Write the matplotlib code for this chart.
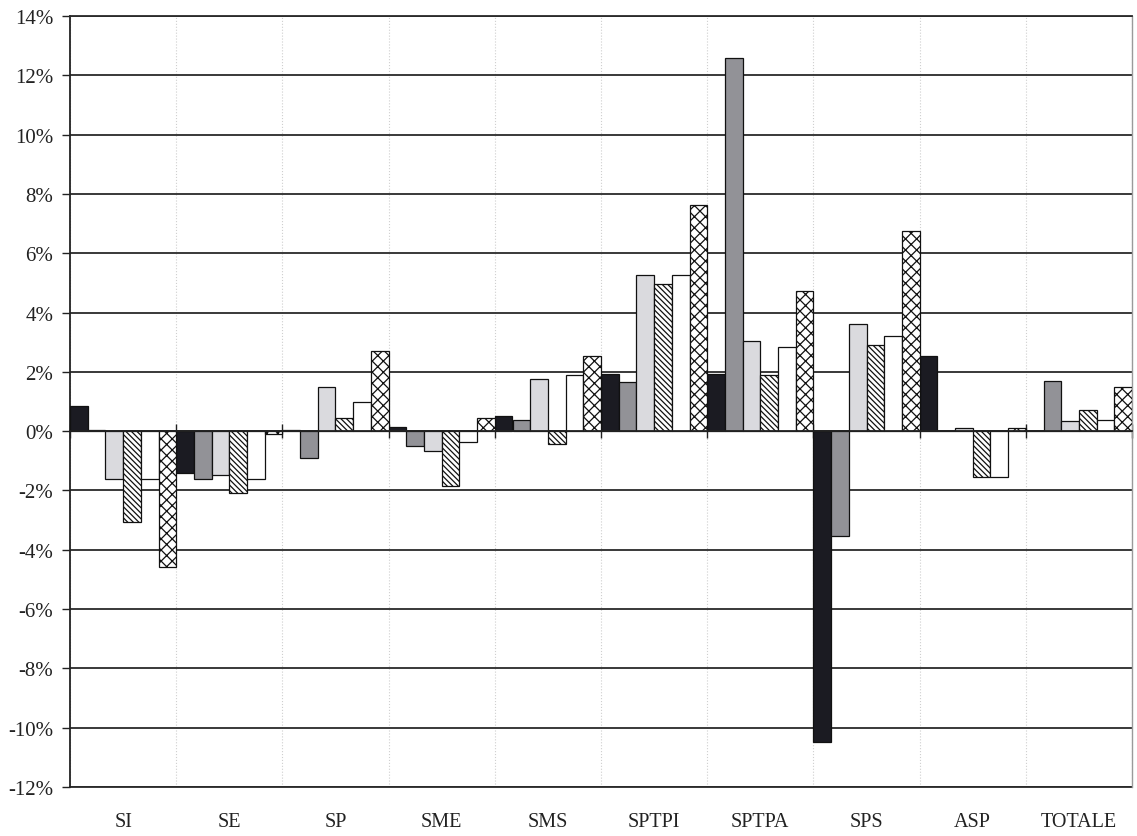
import numpy as np
import matplotlib
matplotlib.use("Agg")
import matplotlib.pyplot as plt
from matplotlib.transforms import blended_transform_factory
from matplotlib.ticker import FuncFormatter

categories = ['SI', 'SE', 'SP', 'SME', 'SMS', 'SPTPI', 'SPTPA', 'SPS', 'ASP', 'TOTALE']
s_black = [0.85, -1.42, 0.05, 0.15, 0.52, 1.93, 1.93, -10.47, 2.52, 0.0]
s_gray = [0.05, -1.60, -0.92, -0.50, 0.38, 1.65, 12.60, -3.55, 0.0, 1.70]
s_light = [-1.60, -1.48, 1.50, -0.66, 1.76, 5.25, 3.05, 3.62, 0.10, 0.34]
s_diag = [-3.07, -2.10, 0.45, -1.86, -0.42, 4.97, 1.90, 2.92, -1.55, 0.72]
s_white = [-1.60, -1.60, 0.98, -0.38, 1.88, 5.25, 2.83, 3.22, -1.55, 0.37]
s_cross = [-4.57, -0.10, 2.71, 0.44, 2.55, 7.64, 4.73, 6.74, 0.10, 1.48]
yticks = list(range(-12, 15, 2))

series = [s_black, s_gray, s_light, s_diag, s_white, s_cross]
styles = [
    dict(facecolor='#1b1b22', hatch=None),
    dict(facecolor='#929297', hatch=None),
    dict(facecolor='#dadade', hatch=None),
    dict(facecolor='white', hatch='\\\\\\\\\\\\'),
    dict(facecolor='white', hatch=None),
    dict(facecolor='white', hatch='xxx'),
]

plt.rcParams['font.family'] = ['Liberation Serif', 'DejaVu Serif']
plt.rcParams['hatch.linewidth'] = 0.9

fig = plt.figure(figsize=(11.37, 8.37), dpi=100)
ax = fig.add_axes([70 / 1137, (837 - 788) / 837, (1132 - 70) / 1137, (788 - 17) / 837])

n = len(categories)
m = len(series)
w = 1.0 / m
base = np.arange(n)
for j, (vals, st) in enumerate(zip(series, styles)):
    ax.bar(base + (j + 0.5) * w, vals, width=w, facecolor=st['facecolor'],
           hatch=st['hatch'], edgecolor='#111111', linewidth=0.9, zorder=3)

ax.set_xlim(0, n)
ax.set_ylim(-12, 14)
ax.set_yticks(yticks)
ax.yaxis.set_major_formatter(FuncFormatter(lambda v, p: f'{int(round(v))}%'))
ax.tick_params(axis='y', direction='out', length=6, width=1.0, labelsize=15, pad=6, colors='#222222')

ax.set_xticks(np.arange(n + 1))
ax.set_xticklabels([])
ax.tick_params(axis='x', direction='inout', length=10, width=1.0, colors='#222222')

ax.grid(axis='y', color='#2a2a2a', linewidth=1.3, zorder=1)
ax.grid(axis='x', color='#cfcfcf', linewidth=0.8, linestyle=':', zorder=1)
ax.set_axisbelow(True)

ax.spines['bottom'].set_position(('data', 0))
ax.spines['bottom'].set_color('#222222')
ax.spines['bottom'].set_linewidth(1.3)
ax.spines['bottom'].set_zorder(4)
ax.spines['left'].set_color('#222222')
ax.spines['left'].set_linewidth(1.3)
ax.spines['top'].set_color('#2a2a2a')
ax.spines['top'].set_linewidth(1.3)
ax.spines['right'].set_color('#9a9a9a')
ax.spines['right'].set_linewidth(1.0)
ax.axhline(-12, color='#2a2a2a', linewidth=1.3, clip_on=False, zorder=2)

trans = blended_transform_factory(ax.transData, ax.transAxes)
for i, c in enumerate(categories):
    ax.text(i + 0.5, -0.045, c, transform=trans, ha='center', va='center',
            fontsize=14.5, color='#222222')

fig.savefig('out.png', dpi=100)
